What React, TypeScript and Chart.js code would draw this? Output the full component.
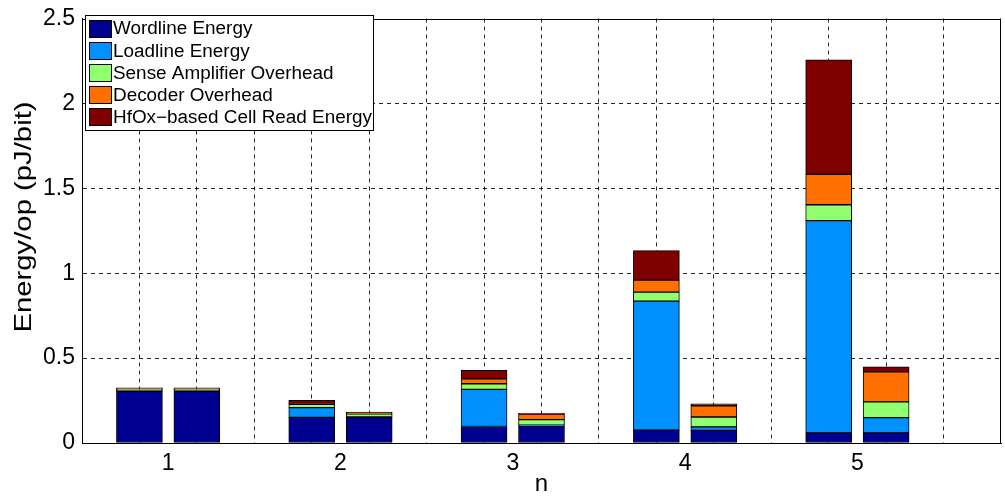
import React, { useEffect, useRef } from 'react';
import { Chart, registerables } from 'chart.js';

Chart.register(...registerables);

// ---- data ----
const groupLabels = ['1', '2', '3', '4', '5'];
const labelPositions = [1.5, 4.5, 7.5, 10.5, 13.5];
const gridPositions = [0, 1, 2, 3, 4, 5, 6, 7, 8, 9, 10, 11, 12, 13, 14, 15, 16];
const barPositions = [1, 2, 4, 5, 7, 8, 10, 11, 13, 14];

const wordlineEnergy = [0.305, 0.305, 0.151, 0.151, 0.097, 0.1, 0.076, 0.074, 0.06, 0.06];
const loadlineEnergy = [0.002, 0.002, 0.057, 0.003, 0.219, 0.005, 0.76, 0.021, 1.25, 0.089];
const senseAmpOverhead = [0.012, 0.012, 0.02, 0.018, 0.033, 0.033, 0.053, 0.058, 0.093, 0.093];
const decoderOverhead = [0.002, 0.002, 0.004, 0.005, 0.029, 0.033, 0.07, 0.066, 0.18, 0.177];
const cellReadEnergy = [0.004, 0.004, 0.02, 0.005, 0.05, 0.003, 0.174, 0.012, 0.673, 0.03];

const seriesNames = [
  'Wordline Energy',
  'Loadline Energy',
  'Sense Amplifier Overhead',
  'Decoder Overhead',
  'HfOx\u2212based Cell Read Energy',
];
const seriesColors = ['#000090', '#0090FF', '#90FF70', '#FF7000', '#800000'];
const seriesValues = [wordlineEnergy, loadlineEnergy, senseAmpOverhead, decoderOverhead, cellReadEnergy];

const yTickValues = [0, 0.5, 1, 1.5, 2, 2.5];
const yTickLabels = ['0', '0.5', '1', '1.5', '2', '2.5'];
const yAxisTitle = 'Energy/op (pJ/bit)';
const xAxisTitle = 'n';

const FONT = "'Liberation Sans', Arial, Helvetica, sans-serif";
const GRID_COLOR = 'rgba(0,0,0,0.85)';
const CLEAR = 'rgba(0,0,0,0)';

const framePlugin = {
  id: 'frameLegendTitle',
  afterDatasetsDraw(chart: any) {
    const { ctx, chartArea: a } = chart;
    ctx.save();
    ctx.strokeStyle = '#000';
    ctx.lineWidth = 1;
    ctx.setLineDash([]);
    ctx.beginPath();
    ctx.moveTo(a.left, Math.round(a.top) + 0.5);
    ctx.lineTo(a.right, Math.round(a.top) + 0.5);
    ctx.moveTo(Math.round(a.right) - 0.5, a.top);
    ctx.lineTo(Math.round(a.right) - 0.5, a.bottom);
    ctx.stroke();

    // legend box
    const bx = 85.5, by = 15.5, bw = 288, bh = 115;
    ctx.fillStyle = '#fff';
    ctx.fillRect(bx, by, bw, bh);
    ctx.strokeRect(bx, by, bw, bh);
    const ds = chart.data.datasets;
    ctx.font = `18px ${FONT}`;
    ctx.textBaseline = 'middle';
    ctx.textAlign = 'left';
    for (let i = 0; i < ds.length; i++) {
      const top = 19.5 + 22.2 * i;
      ctx.fillStyle = ds[i].backgroundColor;
      ctx.fillRect(89.5, Math.round(top) + 0.5, 22, 17);
      ctx.strokeStyle = '#000';
      ctx.strokeRect(89.5, Math.round(top) + 0.5, 22, 17);
      ctx.fillStyle = '#000';
      ctx.save();
      ctx.translate(113, top + 10);
      ctx.scale(1.05, 1);
      ctx.fillText(ds[i].label, 0, 0);
      ctx.restore();
    }
    ctx.restore();
  },
  afterDraw(chart: any) {
    const { ctx } = chart;
    ctx.save();
    ctx.translate(24, 217);
    ctx.rotate(-Math.PI / 2);
    ctx.scale(1.22, 1);
    ctx.font = `24px ${FONT}`;
    ctx.fillStyle = '#000';
    ctx.textAlign = 'center';
    ctx.textBaseline = 'middle';
    ctx.fillText(yAxisTitle, 0, 0);
    ctx.restore();
  },
};

export default function App() {
  const ref = useRef<HTMLCanvasElement>(null);

  useEffect(() => {
    if (!ref.current) return;
    const datasets = seriesNames.map((name, s) => ({
      label: name,
      data: barPositions.map((x, i) => ({ x, y: seriesValues[s][i] })),
      backgroundColor: seriesColors[s],
      borderColor: '#000',
      borderWidth: 1,
      borderSkipped: false as const,
      barThickness: 46,
    }));

    const chart = new Chart(ref.current, {
      type: 'bar',
      data: { datasets },
      options: {
        responsive: false,
        animation: false,
        layout: { padding: { top: 13, right: 1, left: 0, bottom: 0 } },
        plugins: {
          legend: { display: false },
          tooltip: { enabled: false },
        },
        scales: {
          x: {
            type: 'linear',
            min: 0,
            max: 16,
            offset: false,
            stacked: true,
            grid: {
              offset: false,
              drawTicks: false,
              lineWidth: 1,
              color: (ctx: any) => {
                const v = ctx.tick ? ctx.tick.value : NaN;
                return gridPositions.includes(v) && v > 0 && v < 16 ? GRID_COLOR : CLEAR;
              },
            },
            border: { display: true, color: '#000', width: 1, dash: [4, 4] },
            ticks: {
              autoSkip: false,
              maxRotation: 0,
              minRotation: 0,
              padding: 9,
              color: '#000',
              font: { family: FONT, size: 23, lineHeight: 1 },
              callback: (value: any) => {
                const i = labelPositions.indexOf(Number(value));
                return i >= 0 ? groupLabels[i] : '';
              },
            },
            afterBuildTicks: (scale: any) => {
              const vals = [...gridPositions, ...labelPositions].sort((a, b) => a - b);
              scale.ticks = vals.map((v) => ({ value: v }));
            },
            afterFit: (scale: any) => {
              scale.height = 57;
            },
            title: {
              display: true,
              text: xAxisTitle,
              color: '#000',
              font: { family: FONT, size: 24 },
              padding: { top: 0, bottom: 1 },
            },
          },
          y: {
            type: 'linear',
            min: 0,
            max: 2.5,
            stacked: true,
            grid: {
              drawTicks: false,
              lineWidth: 1,
              color: (ctx: any) => {
                const v = ctx.tick ? ctx.tick.value : NaN;
                return v > 0 && v < 2.5 ? GRID_COLOR : CLEAR;
              },
            },
            border: { display: true, color: '#000', width: 1, dash: [4, 4] },
            ticks: {
              padding: 7,
              color: '#000',
              font: { family: FONT, size: 23, lineHeight: 1 },
              callback: (value: any) => {
                const i = yTickValues.indexOf(Number(value));
                return i >= 0 ? yTickLabels[i] : '';
              },
            },
            afterBuildTicks: (scale: any) => {
              scale.ticks = yTickValues.map((v) => ({ value: v }));
            },
            afterFit: (scale: any) => {
              scale.width = 82;
            },
          },
        },
      } as any,
      plugins: [framePlugin],
    });
    return () => chart.destroy();
  }, []);

  return (
    <div
      style={{
        position: 'fixed',
        left: 0,
        top: 0,
        width: 1005,
        height: 500,
        overflow: 'hidden',
        background: '#fff',
      }}
    >
      <canvas ref={ref} width={1010} height={500} style={{ display: 'block' }} />
    </div>
  );
}
